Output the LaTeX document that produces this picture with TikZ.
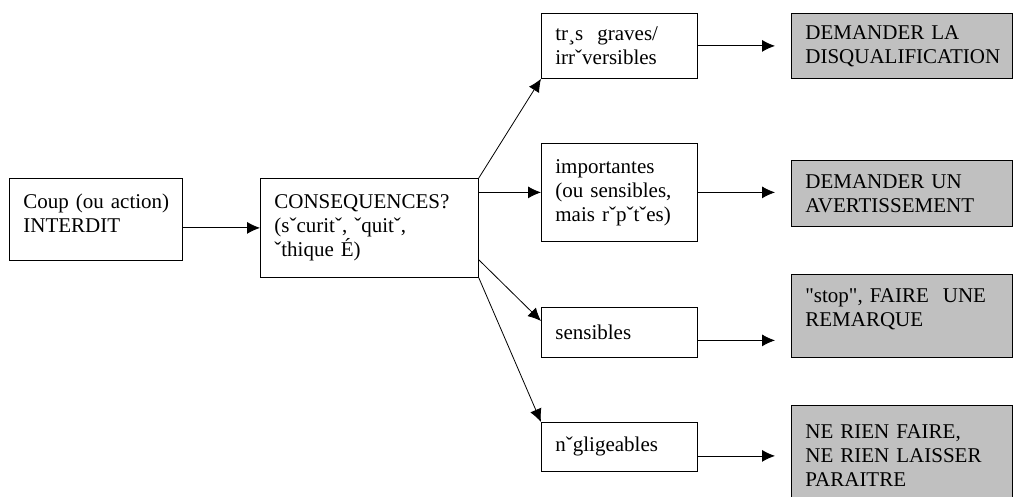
\documentclass[tikz,border=0pt]{standalone}
\usepackage{fontspec}
\setmainfont{Liberation Serif}
\usetikzlibrary{arrows.meta}
\definecolor{boxgray}{RGB}{192,192,192}

\begin{document}
\begin{tikzpicture}[
      x=1pt, y=-1pt,
      every node/.style={font=\fontsize{21pt}{24pt}\selectfont},
      box/.style={draw, line width=0.8pt, anchor=north west, align=left,
        inner xsep=14pt, inner ysep=2pt},
      greybox/.style={box, fill=boxgray, text width=193pt},
      smallbox/.style={box, text width=128pt},
      arr/.style={-{Latex[length=13pt,width=12pt]}, line width=0.8pt}
    ]
    \useasboundingbox (0,0) rectangle (1013,497);
    \clip (0,0) rectangle (1013,497);

    % left part
    \node[box, text width=145pt, minimum height=82pt, text depth=36pt] (coup) at (9,178)
      {\mbox{Coup (ou action)}\\INTERDIT};
    \node[box, text width=190pt, minimum height=99pt] (cons) at (260,178)
      {CONSEQUENCES?\\(sˇcuritˇ, ˇquitˇ,\\ˇthique É)};

    % consequences
    \node[smallbox, minimum height=65pt] (grave) at (541,13)
      {tr¸s\ \ graves/\\irrˇversibles};
    \node[smallbox, minimum height=98pt] (impo) at (541,143)
      {importantes\\(ou sensibles,\\mais rˇpˇtˇes)};
    \node[smallbox, minimum height=50pt] (sens) at (541,307) {sensibles};
    \node[smallbox, minimum height=49pt] (negl) at (541,422) {nˇgligeables};

    % decisions
    \node[greybox, minimum height=65pt] (disq) at (791,13)
      {DEMANDER LA\\DISQUALIFICATION};
    \node[greybox, minimum height=66pt] (avert) at (791,160)
      {DEMANDER UN\\AVERTISSEMENT};
    \node[greybox, minimum height=83pt, text depth=40pt] (remarq) at (791,274)
      {\textquotedbl stop\textquotedbl, FAIRE\ \ UNE\\REMARQUE};
    \node[greybox, minimum height=100pt] (rien) at (791,405)
      {NE RIEN FAIRE,\\NE RIEN LAISSER\\PARAITRE};

    % arrows
    \draw[arr] (coup.east |- cons.west) -- (cons.west);
    \draw[arr] (cons.north east) -- (grave.south west);
    \draw[arr] (cons.east |- impo.west) -- (impo.west);
    \draw[arr] ([yshift=18pt]cons.south east) -- ([yshift=-14pt]sens.north west);
    \draw[arr] (cons.south east) -- (negl.north west);

    \draw[arr, shorten >=16pt] (grave.east) -- (grave.east -| disq.west);
    \draw[arr, shorten >=16pt] (impo.east) -- (impo.east -| avert.west);
    \draw[arr, shorten >=16pt] ([yshift=-8pt]sens.east) -- ([yshift=-8pt]sens.east -| remarq.west);
    \draw[arr, shorten >=16pt] ([yshift=-9pt]negl.east) -- ([yshift=-9pt]negl.east -| rien.west);
\end{tikzpicture}
\end{document}
